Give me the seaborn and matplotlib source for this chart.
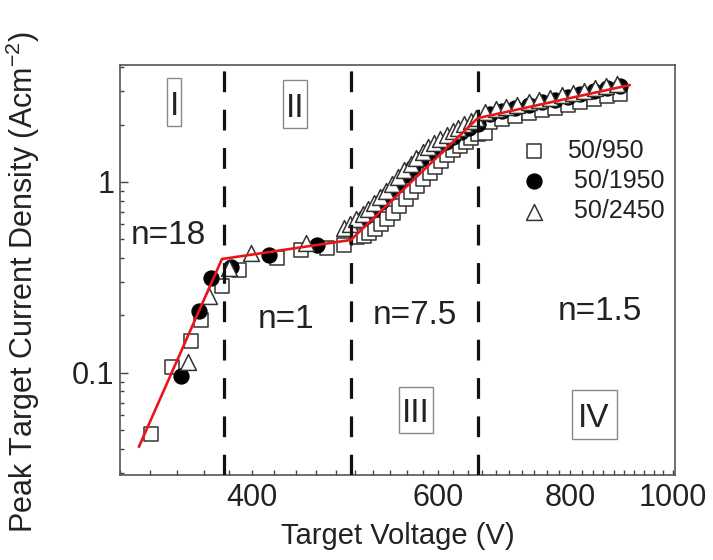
import numpy as np
import pandas as pd
import matplotlib
matplotlib.use("Agg")
import matplotlib.pyplot as plt
import seaborn as sns
from matplotlib.patches import Rectangle
from matplotlib.ticker import FixedLocator, FixedFormatter, NullFormatter

# ---------------- data ----------------
v_950 = [321, 336, 350, 358, 375, 389, 422, 445, 471, 489,
         503, 510, 516, 523, 530, 537, 544, 551, 559, 566, 573, 581, 589, 596, 604,
         612, 620, 629, 637, 645, 654,
         664, 671, 690, 710, 731, 752, 773, 796, 818, 842, 866, 891]
j_950 = [0.048, 0.107, 0.147, 0.19, 0.284, 0.348, 0.402, 0.442, 0.453, 0.47,
         0.517, 0.523, 0.543, 0.569, 0.604, 0.642, 0.690, 0.750, 0.816, 0.887, 0.953, 1.037, 1.114, 1.197, 1.286,
         1.382, 1.468, 1.540, 1.615, 1.695, 1.778,
         1.80, 2.07, 2.14, 2.21, 2.29, 2.37, 2.45, 2.53, 2.62, 2.71, 2.81, 2.90]

v_1950 = [343, 356, 366, 382, 415, 461,
          512, 521, 530, 539, 549, 559, 568, 578, 589, 599, 610, 620, 631, 642, 654,
          671, 690, 710, 731, 752, 773, 796, 818, 842, 866, 891]
j_1950 = [0.096, 0.21, 0.316, 0.36, 0.417, 0.47,
          0.653, 0.715, 0.787, 0.871, 0.976, 1.088, 1.197, 1.318, 1.428, 1.522, 1.621, 1.726, 1.821, 1.922, 2.017,
          2.28, 2.35, 2.44, 2.52, 2.61, 2.70, 2.79, 2.89, 2.99, 3.09, 3.19]

v_2450 = [348, 364, 380, 399, 450,
          489, 495, 502, 509, 515, 522, 529, 536, 543, 550, 557, 565, 572, 580, 587, 595,
          603, 611, 619, 627, 635, 644, 652,
          664, 680, 696, 713, 731, 748, 766, 785, 804, 824, 844, 864, 885]
j_2450 = [0.114, 0.252, 0.356, 0.427, 0.481,
          0.576, 0.604, 0.642, 0.681, 0.723, 0.777, 0.835, 0.898, 0.976, 1.062, 1.155, 1.241, 1.334, 1.433, 1.522, 1.596,
          1.675, 1.757, 1.843, 1.911, 2.005, 2.078, 2.154,
          2.33, 2.40, 2.47, 2.54, 2.61, 2.69, 2.76, 2.84, 2.93, 3.01, 3.10, 3.18, 3.28]

fit_v = [312.6, 374.6, 496, 654, 911]
fit_j = [0.041, 0.395, 0.497, 2.16, 3.22]

boundary_v = [376, 496, 655]

series_labels = ["50/950", " 50/1950", " 50/2450"]
slope_texts = ["n=18", "n=1", "n=7.5", "n=1.5"]
region_texts = ["I", "II", "III", "IV"]

x_major = [400, 600, 800, 1000]
x_major_labels = ["400", "600", "800", "1000"]
x_minor = [v for v in range(300, 1001, 20) if v not in x_major]
y_major = [0.1, 1]
y_major_labels = ["0.1", "1"]

# ---------------- style ----------------
sns.set_theme(style="white")
plt.rcParams["font.family"] = ["Liberation Sans", "DejaVu Sans"]
plt.rcParams["mathtext.fontset"] = "custom"
plt.rcParams["mathtext.rm"] = "Liberation Sans"
plt.rcParams["mathtext.it"] = "Liberation Sans:italic"
plt.rcParams["mathtext.bf"] = "Liberation Sans:bold"

txt = "#222222"
fig = plt.figure(figsize=(7.13, 5.6), dpi=100)
ax = fig.add_axes([120 / 713, 1 - 475 / 560, 555 / 713, 410 / 560])

df950 = pd.DataFrame({"V": v_950, "J": j_950})
df1950 = pd.DataFrame({"V": v_1950, "J": j_1950})
df2450 = pd.DataFrame({"V": v_2450, "J": j_2450})
dffit = pd.DataFrame({"V": fit_v, "J": fit_j})

sns.scatterplot(data=df950, x="V", y="J", marker="s", s=100, facecolor="white",
                edgecolor="#333333", linewidth=1.1, ax=ax, label=series_labels[0], zorder=3)
sns.scatterplot(data=df1950, x="V", y="J", marker="o", s=115, color="black",
                edgecolor="black", linewidth=1.0, ax=ax, label=series_labels[1], zorder=4)
sns.scatterplot(data=df2450, x="V", y="J", marker="^", s=130, facecolor="white",
                edgecolor="#333333", linewidth=1.1, ax=ax, label=series_labels[2], zorder=5)

sns.lineplot(data=dffit, x="V", y="J", color="#e8161c", linewidth=1.9, sort=False,
             estimator=None, ax=ax, zorder=7, legend=False)

for bv in boundary_v:
    ax.axvline(bv, color="#111111", linewidth=2.3, dashes=(6.5, 5.5), zorder=6)

ax.set_xscale("log")
ax.set_yscale("log")
ax.set_xlim(300, 1005)
ax.set_ylim(0.0292, 4.1)

ax.xaxis.set_major_locator(FixedLocator(x_major))
ax.xaxis.set_major_formatter(FixedFormatter(x_major_labels))
ax.xaxis.set_minor_locator(FixedLocator(x_minor))
ax.xaxis.set_minor_formatter(NullFormatter())
ax.yaxis.set_major_locator(FixedLocator(y_major))
ax.yaxis.set_major_formatter(FixedFormatter(y_major_labels))
ax.yaxis.set_minor_formatter(NullFormatter())

ax.tick_params(which="both", direction="in", top=False, right=False,
               bottom=True, left=True, colors="#444444", labelcolor=txt)
ax.tick_params(axis="x", which="major", length=3.5, width=1.0, labelsize=22, pad=6)
ax.tick_params(axis="x", which="minor", length=3.5, width=1.0)
ax.tick_params(axis="y", which="major", length=6, width=1.0, labelsize=22, pad=4)
ax.tick_params(axis="y", which="minor", length=3, width=1.0)

for sp in ax.spines.values():
    sp.set_color("#555555")
    sp.set_linewidth(1.2)

ax.set_xlabel("Target Voltage (V)", fontsize=21, color=txt, labelpad=6)
ax.set_ylabel("Peak Target Current Density (Acm$^{-2}$)", fontsize=22, color=txt)
ax.yaxis.set_label_coords(-0.14, 0.47)

slope_pos = [(0.088, 0.585), (0.299, 0.380), (0.532, 0.390), (0.865, 0.398)]
for t, (px, py) in zip(slope_texts, slope_pos):
    ax.text(px, py, t, transform=ax.transAxes, fontsize=24, color=txt,
            ha="center", va="center", zorder=8)

# region labels with their boxes (axes-fraction layout)
region_text_pos = [(0.0973, 0.878), (0.3153, 0.873), (0.5333, 0.129), (0.854, 0.117)]
region_boxes = [(0.0847, 0.851, 0.0252, 0.117), (0.2937, 0.846, 0.0433, 0.117),
                (0.5027, 0.1024, 0.0613, 0.1122), (0.8144, 0.0878, 0.0811, 0.1195)]
for t, (px, py), (bx, by, bw, bh) in zip(region_texts, region_text_pos, region_boxes):
    ax.add_patch(Rectangle((bx, by), bw, bh, transform=ax.transAxes, facecolor="white",
                           edgecolor="#888888", linewidth=1.0, zorder=8))
    ax.text(px, py, t, transform=ax.transAxes, fontsize=24, color=txt,
            ha="center", va="baseline", zorder=9)

leg = ax.legend(loc="upper left", bbox_to_anchor=(0.724, 0.82), frameon=False,
                fontsize=18, handlelength=1.0, handletextpad=0.8,
                borderpad=0, borderaxespad=0, labelspacing=0.25)
for t in leg.get_texts():
    t.set_color(txt)

fig.savefig("out.png", dpi=100)
